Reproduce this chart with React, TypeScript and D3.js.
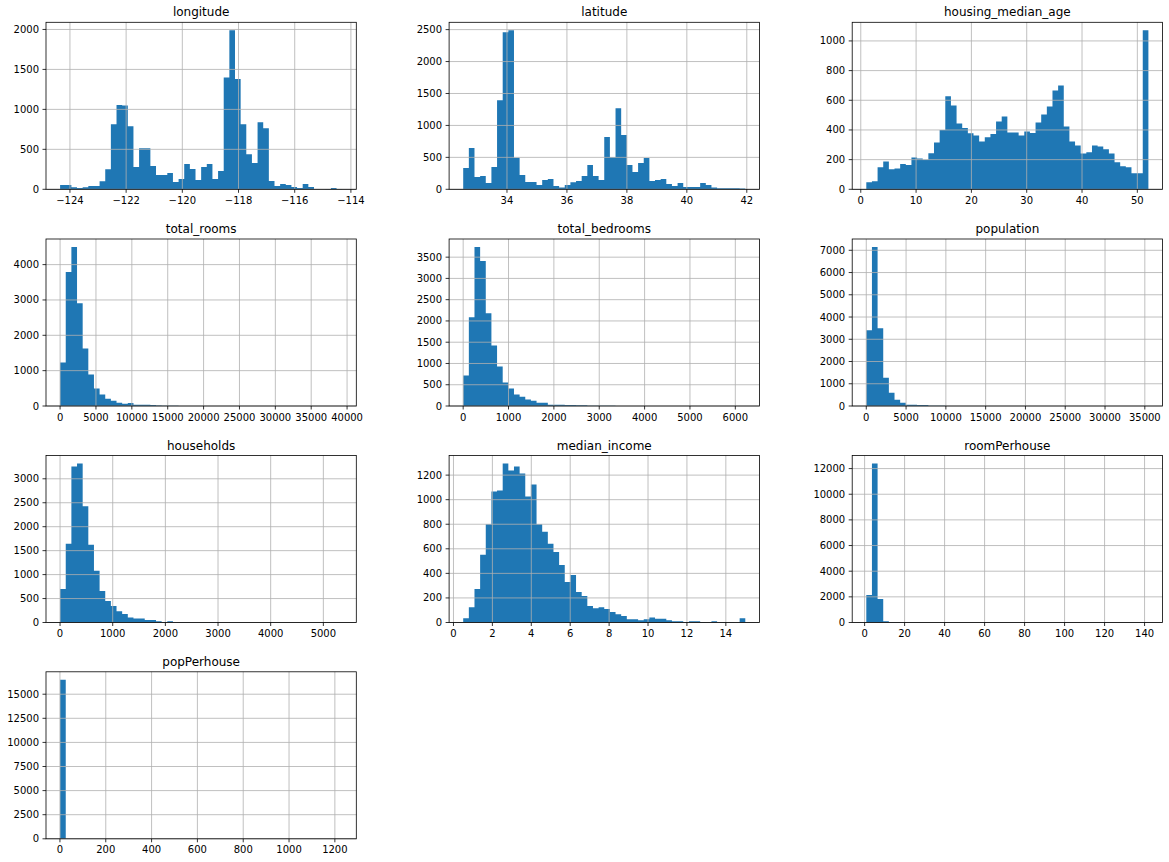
import React, { useEffect, useRef } from "react";
import * as d3 from "d3";

// ---- data (50 bins per histogram) ----
const longitudeRange = [-124.35, -114.31];
const longitudeCounts = [
  55, 55, 25, 15, 25, 40, 40, 100, 250, 815, 1055, 1050, 790, 280, 515, 515, 290, 180, 180, 205,
  90, 130, 315, 255, 115, 280, 315, 130, 230, 1400, 1990, 1380, 815, 440, 330, 840, 765, 105, 40, 65,
  55, 30, 15, 65, 30, 3, 2, 5, 15, 3,
];
const longitudeXTicks = [-124, -122, -120, -118, -116, -114];
const longitudeYTicks = [0, 500, 1000, 1500, 2000];

const latitudeRange = [32.54, 41.95];
const latitudeCounts = [
  333, 645, 193, 208, 100, 350, 1395, 2460, 2490, 495, 225, 115, 115, 68, 146, 160, 52, 30, 68, 110,
  130, 210, 380, 210, 146, 818, 500, 1270, 850, 380, 270, 410, 490, 130, 146, 160, 83, 52, 100, 36,
  36, 36, 100, 68, 30, 15, 15, 15, 15, 12,
];
const latitudeXTicks = [34, 36, 38, 40, 42];
const latitudeYTicks = [0, 500, 1000, 1500, 2000, 2500];

const ageRange = [1, 52];
const ageCounts = [
  47, 54, 148, 188, 135, 141, 170, 164, 215, 208, 200, 243, 316, 400, 628, 565, 444, 413, 377, 363,
  323, 350, 372, 457, 491, 383, 383, 363, 390, 379, 450, 505, 558, 666, 700, 424, 323, 296, 242, 249,
  296, 289, 270, 242, 182, 155, 148, 108, 108, 1072,
];
const ageXTicks = [0, 10, 20, 30, 40, 50];
const ageYTicks = [0, 200, 400, 600, 800, 1000];

const roomsRange = [2, 39320];
const roomsCounts = [
  1232, 3790, 4500, 2910, 1630, 890, 493, 322, 208, 152, 95, 66, 85, 38, 38, 35, 30, 12, 8, 6,
  4, 3, 2, 2, 1, 1, 1, 0, 0, 1, 0, 0, 0, 0, 0, 0, 1, 0, 0, 0,
  0, 0, 0, 0, 0, 0, 0, 0, 0, 1,
];
const roomsXTicks = [0, 5000, 10000, 15000, 20000, 25000, 30000, 35000, 40000];
const roomsYTicks = [0, 1000, 2000, 3000, 4000];

const bedroomsRange = [1, 6220];
const bedroomsCounts = [
  716, 2087, 3740, 3410, 2180, 1425, 930, 551, 409, 268, 220, 150, 126, 79, 79, 32, 28, 28, 25, 22,
  20, 18, 8, 6, 5, 4, 3, 2, 2, 2, 1, 1, 1, 1, 0, 1, 0, 0, 1, 0,
  0, 0, 0, 0, 0, 0, 0, 0, 0, 1,
];
const bedroomsXTicks = [0, 1000, 2000, 3000, 4000, 5000, 6000];
const bedroomsYTicks = [0, 500, 1000, 1500, 2000, 2500, 3000, 3500];

const populationRange = [3, 35450];
const populationCounts = [
  3400, 7150, 3490, 1265, 600, 285, 150, 60, 55, 50, 45, 15, 10, 6, 4, 3, 2, 2, 1, 1,
  1, 0, 1, 0, 0, 0, 0, 0, 0, 0, 0, 0, 0, 0, 0, 0, 0, 0, 0, 0,
  0, 0, 0, 0, 0, 0, 0, 0, 0, 1,
];
const populationXTicks = [0, 5000, 10000, 15000, 20000, 25000, 30000, 35000];
const populationYTicks = [0, 1000, 2000, 3000, 4000, 5000, 6000, 7000];

const householdsRange = [1, 5358];
const householdsCounts = [
  700, 1645, 3255, 3320, 2425, 1625, 1080, 660, 450, 345, 233, 175, 105, 85, 85, 50, 50, 28, 8, 28,
  5, 4, 3, 2, 2, 1, 1, 1, 0, 1, 0, 0, 0, 0, 0, 1, 0, 0, 0, 0,
  0, 0, 0, 0, 0, 0, 0, 0, 0, 1,
];
const householdsXTicks = [0, 1000, 2000, 3000, 4000, 5000];
const householdsYTicks = [0, 500, 1000, 1500, 2000, 2500, 3000];

const incomeRange = [0.4999, 15.0001];
const incomeCounts = [
  35, 125, 273, 551, 800, 1066, 1075, 1295, 1238, 1271, 1214, 1025, 1124, 800, 739, 641, 575, 469, 330, 387,
  248, 215, 134, 117, 125, 109, 85, 68, 52, 27, 27, 19, 27, 41, 30, 30, 19, 11, 11, 3,
  11, 11, 4, 3, 11, 3, 2, 2, 1, 35,
];
const incomeXTicks = [0, 2, 4, 6, 8, 10, 12, 14];
const incomeYTicks = [0, 200, 400, 600, 800, 1000, 1200];

const roomPerhouseRange = [0.846, 141.909];
const roomPerhouseCounts = [
  2140, 12400, 1830, 105, 25, 10, 6, 4, 3, 2, 2, 1, 1, 1, 0, 1, 0, 0, 1, 0,
  0, 0, 0, 0, 0, 1, 0, 0, 0, 0, 0, 0, 0, 0, 0, 0, 0, 0, 0, 0,
  0, 0, 0, 0, 0, 0, 0, 0, 0, 1,
];
const roomPerhouseXTicks = [0, 20, 40, 60, 80, 100, 120, 140];
const roomPerhouseYTicks = [0, 2000, 4000, 6000, 8000, 10000, 12000];

const popPerhouseRange = [0.69, 1232];
const popPerhouseCounts = [
  16500, 8, 2, 1, 0, 0, 0, 0, 0, 0, 0, 0, 0, 0, 0, 0, 0, 0, 0, 0,
  0, 0, 0, 0, 0, 0, 0, 0, 0, 0, 0, 0, 0, 0, 0, 0, 0, 0, 0, 0,
  0, 0, 0, 0, 0, 0, 0, 0, 0, 1,
];
const popPerhouseXTicks = [0, 200, 400, 600, 800, 1000, 1200];
const popPerhouseYTicks = [0, 2500, 5000, 7500, 10000, 12500, 15000];

const panels = [
  { title: "longitude", range: longitudeRange, counts: longitudeCounts, xTicks: longitudeXTicks, yTicks: longitudeYTicks },
  { title: "latitude", range: latitudeRange, counts: latitudeCounts, xTicks: latitudeXTicks, yTicks: latitudeYTicks },
  { title: "housing_median_age", range: ageRange, counts: ageCounts, xTicks: ageXTicks, yTicks: ageYTicks },
  { title: "total_rooms", range: roomsRange, counts: roomsCounts, xTicks: roomsXTicks, yTicks: roomsYTicks },
  { title: "total_bedrooms", range: bedroomsRange, counts: bedroomsCounts, xTicks: bedroomsXTicks, yTicks: bedroomsYTicks },
  { title: "population", range: populationRange, counts: populationCounts, xTicks: populationXTicks, yTicks: populationYTicks },
  { title: "households", range: householdsRange, counts: householdsCounts, xTicks: householdsXTicks, yTicks: householdsYTicks },
  { title: "median_income", range: incomeRange, counts: incomeCounts, xTicks: incomeXTicks, yTicks: incomeYTicks },
  { title: "roomPerhouse", range: roomPerhouseRange, counts: roomPerhouseCounts, xTicks: roomPerhouseXTicks, yTicks: roomPerhouseYTicks },
  { title: "popPerhouse", range: popPerhouseRange, counts: popPerhouseCounts, xTicks: popPerhouseXTicks, yTicks: popPerhouseYTicks },
];

const fmt = (v: number) => (v < 0 ? `\u2212${Math.abs(v)}` : `${v}`);

export default function App() {
  const svgRef = useRef<SVGSVGElement>(null);

  useEffect(() => {
    if (!svgRef.current) return;
    const svg = d3.select(svgRef.current);
    svg.selectAll("*").remove();

    const width = 1169;
    const height = 862;
    const colLeft = [46, 449.1, 852.2];
    const rowTop = [22.3, 239, 455.5, 671.8];
    const axW = 310.3;
    const axH = 167;
    const font = "DejaVu Sans, sans-serif";

    svg.append("rect").attr("width", width).attr("height", height).attr("fill", "#fff");

    panels.forEach((p, i) => {
      const left = colLeft[i % 3];
      const top = rowTop[Math.floor(i / 3)];
      const [lo, hi] = p.range;
      const pad = (hi - lo) * 0.05;
      const bw = (hi - lo) / p.counts.length;

      const x = d3.scaleLinear().domain([lo - pad, hi + pad]).range([0, axW]);
      const y = d3.scaleLinear().domain([0, (d3.max(p.counts) as number) * 1.05]).range([axH, 0]);

      const g = svg.append("g").attr("transform", `translate(${left},${top})`);

      // bars as one stepped outline, so neighbouring bins leave no seams
      const steps = p.counts.map((c, j) => ({ x0: lo + j * bw, c }));
      steps.push({ x0: hi, c: p.counts[p.counts.length - 1] });
      const area = d3
        .area<{ x0: number; c: number }>()
        .x((d) => x(d.x0))
        .y0(axH)
        .y1((d) => y(d.c))
        .curve(d3.curveStepAfter);
      g.append("path").datum(steps).attr("d", area).attr("fill", "#1f77b4");

      // grid (drawn over bars like matplotlib)
      g.selectAll("line.xgrid")
        .data(p.xTicks)
        .enter()
        .append("line")
        .attr("x1", (d) => x(d))
        .attr("x2", (d) => x(d))
        .attr("y1", 0)
        .attr("y2", axH)
        .attr("stroke", "#b0b0b0")
        .attr("stroke-width", 0.8);

      g.selectAll("line.ygrid")
        .data(p.yTicks)
        .enter()
        .append("line")
        .attr("x1", 0)
        .attr("x2", axW)
        .attr("y1", (d) => y(d))
        .attr("y2", (d) => y(d))
        .attr("stroke", "#b0b0b0")
        .attr("stroke-width", 0.8);

      // frame
      g.append("rect")
        .attr("width", axW)
        .attr("height", axH)
        .attr("fill", "none")
        .attr("stroke", "#000")
        .attr("stroke-width", 0.8);

      // x ticks
      const xt = g.selectAll("g.xt").data(p.xTicks).enter().append("g")
        .attr("transform", (d) => `translate(${x(d)},${axH})`);
      xt.append("line").attr("y2", 3.5).attr("stroke", "#000").attr("stroke-width", 0.8);
      xt.append("text")
        .attr("y", 7)
        .attr("dy", "0.76em")
        .attr("text-anchor", "middle")
        .attr("font-family", font)
        .attr("font-size", 10)
        .attr("fill", "#000")
        .text((d) => fmt(d));

      // y ticks
      const yt = g.selectAll("g.yt").data(p.yTicks).enter().append("g")
        .attr("transform", (d) => `translate(0,${y(d)})`);
      yt.append("line").attr("x2", -3.5).attr("stroke", "#000").attr("stroke-width", 0.8);
      yt.append("text")
        .attr("x", -7)
        .attr("dy", "0.35em")
        .attr("text-anchor", "end")
        .attr("font-family", font)
        .attr("font-size", 10)
        .attr("fill", "#000")
        .text((d) => fmt(d));

      // title
      g.append("text")
        .attr("x", axW / 2)
        .attr("y", -6)
        .attr("text-anchor", "middle")
        .attr("font-family", font)
        .attr("font-size", 12)
        .attr("fill", "#000")
        .text(p.title);
    });
  }, []);

  return (
    <div style={{ position: "absolute", left: 0, top: 0 }}>
      <svg ref={svgRef} width={1169} height={862} style={{ display: "block" }} />
    </div>
  );
}
